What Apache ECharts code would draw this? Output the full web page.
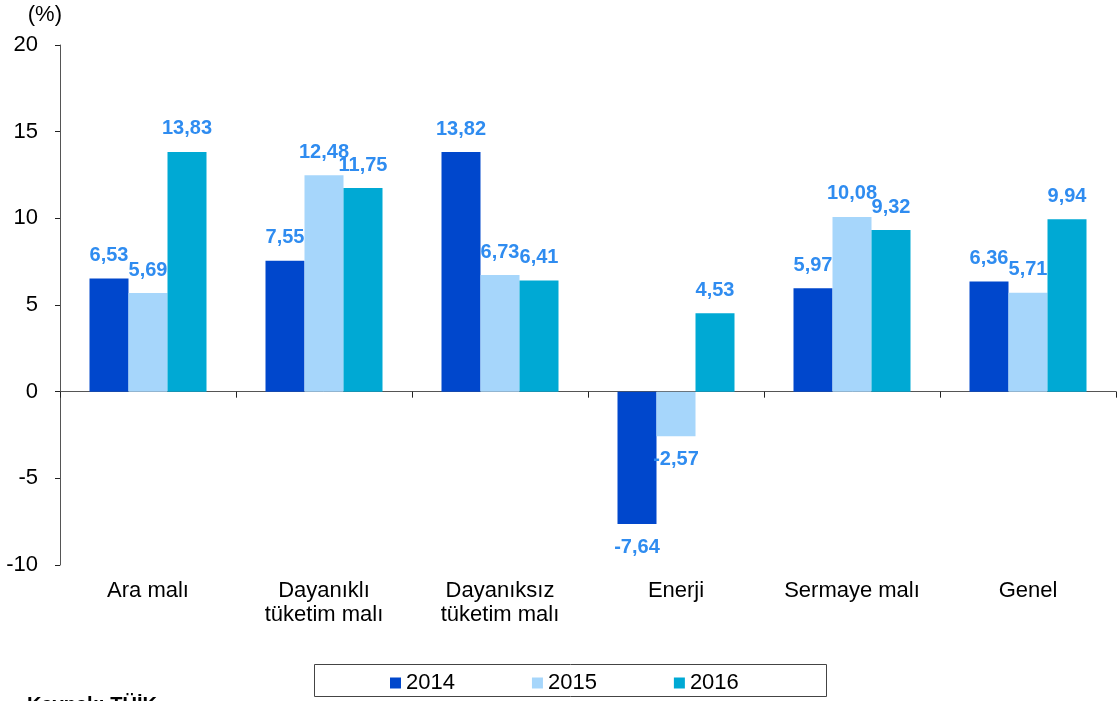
<!DOCTYPE html>
<html>
<head>
<meta charset="utf-8">
<script src="https://cdn.jsdelivr.net/npm/echarts@6/dist/echarts.min.js"></script>
<style>
  html, body { margin: 0; padding: 0; background: #fff; }
  #chart { width: 1117px; height: 701px; }
</style>
</head>
<body>
<div id="chart"></div>
<script>
var categories = ["Ara malı", "Dayanıklı\ntüketim malı", "Dayanıksız\ntüketim malı", "Enerji", "Sermaye malı", "Genel"];
var years = ["2014", "2015", "2016"];
var values2014 = [6.53, 7.55, 13.82, -7.64, 5.97, 6.36];
var values2015 = [5.69, 12.48, 6.73, -2.57, 10.08, 5.71];
var values2016 = [13.83, 11.75, 6.41, 4.53, 9.32, 9.94];
var yTicks = { min: -10, max: 20, interval: 5 };

var colors = ["#0047cc", "#a6d6fb", "#00a9d4"];
var font = "Liberation Sans, Arial, sans-serif";

function toData(arr) {
  // negative bars get their label under the bar
  return arr.map(function (v) {
    return v < 0 ? { value: v, label: { position: "bottom" } } : v;
  });
}

function makeSeries(name, arr, color) {
  return {
    name: name,
    type: "bar",
    xAxisIndex: 0,
    barWidth: 39,
    barGap: "0%",
    itemStyle: { color: color },
    label: {
      show: true,
      position: "top",
      distance: 13,
      color: "#2f8cf0",
      fontFamily: font,
      fontWeight: "bold",
      fontSize: 20,
      formatter: function (p) {
        return p.value.toFixed(2).replace(".", ",");
      }
    },
    data: toData(arr)
  };
}

var chart = echarts.init(document.getElementById("chart"));
var option = {
  animation: false,
  backgroundColor: "#fff",
  textStyle: { fontFamily: font },
  grid: { left: 60, right: 1, top: 45, bottom: 136, containLabel: false },
  legend: {
    left: 385,
    top: 667,
    itemWidth: 11,
    itemHeight: 11,
    itemGap: 77,
    icon: "rect",
    textStyle: { color: "#000", fontSize: 22, fontFamily: font },
    data: years
  },
  xAxis: [
    {
      type: "category",
      data: categories,
      position: "bottom",
      axisLine: { show: false, onZero: false },
      axisTick: { show: false },
      axisLabel: {
        color: "#000",
        fontSize: 22,
        fontFamily: font,
        lineHeight: 24,
        margin: 14,
        interval: 0
      }
    },
    {
      type: "category",
      data: categories,
      position: "top",
      axisLine: { show: true, onZero: true, lineStyle: { color: "#555", width: 1 } },
      axisTick: { show: true, inside: true, length: 6, lineStyle: { color: "#222" } },
      axisLabel: { show: false }
    }
  ],
  yAxis: {
    type: "value",
    min: yTicks.min,
    max: yTicks.max,
    interval: yTicks.interval,
    name: "(%)",
    nameLocation: "end",
    nameGap: 19,
    nameTextStyle: { color: "#000", fontSize: 22, fontFamily: font, align: "right", padding: [0, -2, 0, 0] },
    axisLine: { show: true, lineStyle: { color: "#555", width: 1 } },
    axisTick: { show: true, length: 5, lineStyle: { color: "#222" } },
    splitLine: { show: false },
    axisLabel: { color: "#000", fontSize: 22, fontFamily: font, margin: 22 }
  },
  graphic: [
    {
      type: "rect",
      shape: { x: 314.5, y: 664.5, width: 512, height: 32 },
      style: { fill: "none", stroke: "#444", lineWidth: 1 },
      z: 0
    },
    {
      type: "text",
      left: 27,
      top: 695,
      style: { text: "Kaynak: TÜİK", fill: "#000", font: "bold 20px " + font }
    }
  ],
  series: [
    makeSeries(years[0], values2014, colors[0]),
    makeSeries(years[1], values2015, colors[1]),
    makeSeries(years[2], values2016, colors[2])
  ]
};
chart.setOption(option);
</script>
</body>
</html>
